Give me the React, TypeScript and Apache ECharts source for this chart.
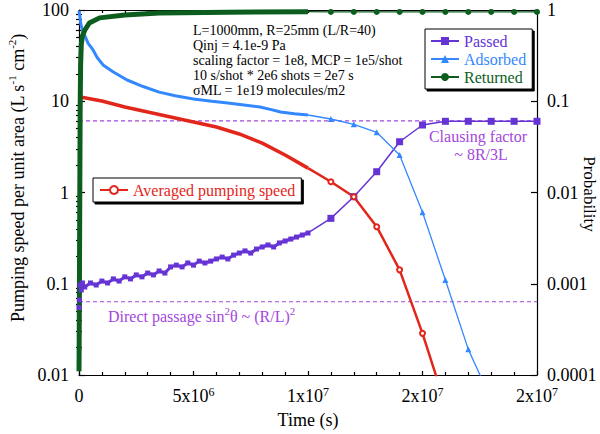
import React, { useEffect, useRef } from "react";
import * as echarts from "echarts";

const FONT = "Liberation Serif";

// ---- tick labels ----
const xTickLabels = ["0", "5x10^6", "1x10^7", "2x10^7", "2x10^7"];
const leftTickLabels = ["0.01", "0.1", "1", "10", "100"];
const rightTickLabels = ["0.0001", "0.001", "0.01", "0.1", "1"];

// ---- annotation text ----
const annotationLines = [
  "L=1000mm, R=25mm (L/R=40)",
  "Qinj = 4.1e-9 Pa",
  "scaling factor = 1e8, MCP = 1e5/shot",
  "10 s/shot * 2e6 shots = 2e7 s",
  "σML = 1e19 molecules/m2",
];

// ---- reference levels (probability) ----
const clausingLevel = 0.061;
const directPassageLevel = 0.000635;
const guideTime = [0, 2e7];

// ---- Passed (probability), densely sampled part ----
const passedDenseTime = [
  0, 2e4, 5e4, 1e5, 1.5e5, 2.5e5, 5e5, 7.5e5, 1e6, 1.25e6, 1.5e6, 1.75e6, 2e6,
  2.25e6, 2.5e6, 2.75e6, 3e6, 3.25e6, 3.5e6, 3.75e6, 4e6, 4.25e6, 4.5e6, 4.75e6,
  5e6, 5.25e6, 5.5e6, 5.75e6, 6e6, 6.25e6, 6.5e6, 6.75e6, 7e6, 7.25e6, 7.5e6,
  7.75e6, 8e6, 8.25e6, 8.5e6, 8.75e6, 9e6, 9.25e6, 9.5e6, 9.75e6, 1e7,
];
const passedDenseProb = [
  0.00055, 0.000664, 0.000969, 0.000855, 0.00102, 0.000921, 0.00102, 0.000969,
  0.00107, 0.00102, 0.00113, 0.00107, 0.00119, 0.00113, 0.00125, 0.00119,
  0.00131, 0.00125, 0.00138, 0.00131, 0.00153, 0.0016, 0.00153, 0.00169, 0.0016,
  0.00177, 0.00169, 0.00177, 0.00187, 0.00196, 0.00187, 0.00206, 0.00217,
  0.00229, 0.00217, 0.0024, 0.00253, 0.00266, 0.00253, 0.0028, 0.00294, 0.00309,
  0.00325, 0.00342, 0.0036,
];

// ---- Adsorbed (probability), densely sampled part ----
const adsorbedDenseTime = [
  0, 4e4, 8e4, 1.5e5, 2.6e5, 4e5, 6e5, 8e5, 1.05e6, 1.5e6, 2.1e6, 2.8e6, 3.5e6,
  4.2e6, 5e6, 5.8e6, 6.5e6, 7.2e6, 7.9e6, 8.4e6, 8.8e6, 9.4e6, 1e7,
];
const adsorbedDenseProb = [
  0.98, 0.85, 0.7, 0.6, 0.52, 0.43, 0.37, 0.3, 0.25, 0.209, 0.171, 0.145, 0.126,
  0.115, 0.106, 0.1, 0.0957, 0.091, 0.0865, 0.081, 0.0762, 0.073, 0.0707,
];

// ---- Returned (probability), densely sampled part ----
const returnedDenseTime = [
  0, 1e4, 2e4, 3e4, 4e4, 5e4, 7e4, 1e5, 1.5e5, 2.5e5, 4.5e5, 9e5, 2e6, 3.5e6,
  6.5e6, 1e7,
];
const returnedDenseProb = [
  0.00011, 0.0003, 0.0012, 0.005, 0.02, 0.08, 0.25, 0.42, 0.52, 0.6, 0.72, 0.82,
  0.88, 0.927, 0.944, 0.958,
];

// ---- Averaged pumping speed (L s-1 cm-2), densely sampled part ----
const speedDenseTime = [0, 1e6, 2e6, 3e6, 4e6, 5e6, 6e6, 7e6, 8e6, 9e6, 1e7];
const speedDenseValue = [11.2, 10.06, 8.65, 7.62, 6.72, 5.93, 5.22, 4.38, 3.48, 2.58, 1.85];

// ---- sparsely sampled part (every 1e6 s) ----
const sparseTime = [1e7, 1.1e7, 1.2e7, 1.3e7, 1.4e7, 1.5e7, 1.6e7, 1.7e7, 1.8e7, 1.9e7, 2e7];
const passedSparse = [0.0036, 0.00521, 0.009, 0.0169, 0.036, 0.0549, 0.0603, 0.0603, 0.0603, 0.0603, 0.0603];
const adsorbedSparse = [0.0707, 0.0639, 0.0559, 0.0457, 0.0258, 0.00607, 0.0011, 0.000191, 0.000054];
const returnedSparse = [0.958, 0.952, 0.952, 0.952, 0.952, 0.952, 0.952, 0.952, 0.952, 0.952, 0.952];
const speedSparse = [1.85, 1.31, 0.9, 0.422, 0.142, 0.0286, 0.0047];

const C_PASSED = "#6633d4";
const C_ADS = "#3388ff";
const C_RET = "#0d5e1e";
const C_RED = "#e3261b";
const C_GUIDE = "#a447dd";

const zip = (t: number[], v: number[]) => v.map((y, i) => [t[i], y]);
const sparse = (v: number[]) =>
  v.map((y, i) => (i === 0 ? { value: [sparseTime[i], y], symbol: "none" } : [sparseTime[i], y]));

const toRich = (s: string) => s.replace(/\^(\S+)/, "{sup|$1}");

const decadeMinor = (lo: number, hi: number) => {
  const out: number[] = [];
  for (let d = lo; d < hi; d++) for (let k = 2; k <= 9; k++) out.push(k * Math.pow(10, d));
  return out;
};

const black = { color: "#000", width: 1.2 };

function buildOption(): any {
  const labelFont = { fontFamily: FONT, fontSize: 18, color: "#000" };
  const supStyle = { fontFamily: FONT, fontSize: 12, color: "#000", verticalAlign: "top", lineHeight: 8 };
  const guide = (level: number) => ({
    name: "guide",
    type: "line",
    yAxisIndex: 1,
    data: guideTime.map((t) => [t, level]),
    symbol: "none",
    silent: true,
    lineStyle: { color: C_GUIDE, type: [4, 3], width: 1.2 },
    emphasis: { disabled: true },
    z: 1,
  });
  const legendBox = {
    orient: "vertical",
    itemWidth: 28,
    itemHeight: 10,
    backgroundColor: "#fff",
    borderColor: "#000",
    borderWidth: 1,
    shadowColor: "#000",
    shadowOffsetX: 2,
    shadowOffsetY: 2,
    shadowBlur: 0,
    selectedMode: false,
    textStyle: { fontFamily: FONT, fontSize: 16 },
  };
  return {
    animation: false,
    backgroundColor: "#fff",
    grid: { left: 79, right: 63, top: 10, bottom: 59, containLabel: false },
    legend: [
      {
        ...legendBox,
        data: [
          { name: "Passed", textStyle: { color: C_PASSED } },
          { name: "Adsorbed", textStyle: { color: C_ADS } },
          { name: "Returned", textStyle: { color: C_RET } },
        ],
        left: 425,
        top: 29,
        itemGap: 2,
        padding: [4, 6, 4, 5],
      },
      {
        ...legendBox,
        data: [{ name: "Averaged pumping speed", textStyle: { color: C_RED } }],
        left: 93,
        top: 178,
        padding: [4, 6, 4, 6],
      },
    ],
    xAxis: [
      {
        type: "value",
        position: "bottom",
        min: 0,
        max: 2e7,
        interval: 5e6,
        axisLine: { show: true, onZero: false, lineStyle: black },
        axisTick: { show: true, inside: true, length: 4, lineStyle: black },
        minorTick: { show: true, splitNumber: 5, length: 3, lineStyle: black },
        splitLine: { show: false },
        axisLabel: {
          ...labelFont,
          margin: 11,
          lineHeight: 20,
          formatter: (v: number) => toRich(xTickLabels[Math.round(v / 5e6)] ?? ""),
          rich: { sup: supStyle },
        },
        name: "Time (s)",
        nameLocation: "middle",
        nameGap: 36,
        nameTextStyle: labelFont,
      },
      {
        type: "value",
        position: "top",
        min: 0,
        max: 2e7,
        interval: 5e6,
        axisLine: { show: true, onZero: false, lineStyle: black },
        axisTick: { show: true, inside: true, length: 3, lineStyle: black },
        minorTick: { show: true, splitNumber: 5, length: 3, lineStyle: black },
        splitLine: { show: false },
        axisLabel: { show: false },
      },
    ],
    yAxis: [
      {
        type: "log",
        logBase: 10,
        position: "left",
        min: 0.01,
        max: 100,
        axisLine: { show: true, onZero: false, lineStyle: black },
        axisTick: { show: true, inside: true, length: 6, lineStyle: black },
        splitLine: { show: false },
        axisLabel: {
          ...labelFont,
          margin: 10,
          formatter: (v: number) => leftTickLabels[Math.round(Math.log10(v) + 2)] ?? "",
        },
      },
      {
        type: "log",
        logBase: 10,
        position: "right",
        min: 0.0001,
        max: 1,
        axisLine: { show: true, onZero: false, lineStyle: black },
        axisTick: { show: true, inside: true, length: 6, lineStyle: black },
        splitLine: { show: false },
        axisLabel: {
          ...labelFont,
          margin: 10,
          lineHeight: 18,
          formatter: (v: number) => rightTickLabels[Math.round(Math.log10(v) + 4)] ?? "",
        },
      },
      {
        type: "log",
        logBase: 10,
        position: "left",
        min: 0.01,
        max: 100,
        axisLine: { show: false },
        axisTick: { show: true, inside: true, length: 3, lineStyle: black, customValues: decadeMinor(-2, 2) },
        splitLine: { show: false },
        axisLabel: { show: false },
      },
      {
        type: "log",
        logBase: 10,
        position: "right",
        min: 0.0001,
        max: 1,
        axisLine: { show: false },
        axisTick: { show: true, inside: true, length: 3, lineStyle: black, customValues: decadeMinor(-4, 0) },
        splitLine: { show: false },
        axisLabel: { show: false },
      },
    ],
    series: [
      guide(clausingLevel),
      guide(directPassageLevel),
      {
        name: "PassedDense",
        type: "line",
        yAxisIndex: 1,
        data: zip(passedDenseTime, passedDenseProb),
        symbol: "rect",
        symbolSize: 5,
        showSymbol: true,
        lineStyle: { color: C_PASSED, width: 3 },
        itemStyle: { color: C_PASSED },
        emphasis: { disabled: true },
      },
      {
        name: "Passed",
        type: "line",
        yAxisIndex: 1,
        data: sparse(passedSparse),
        symbol: "rect",
        symbolSize: 7,
        lineStyle: { color: C_PASSED, width: 1.5 },
        itemStyle: { color: C_PASSED },
        emphasis: { disabled: true },
      },
      {
        name: "SpeedDense",
        type: "line",
        yAxisIndex: 0,
        data: zip(speedDenseTime, speedDenseValue),
        symbol: "none",
        lineStyle: { color: C_RED, width: 3.5 },
        itemStyle: { color: C_RED },
        emphasis: { disabled: true },
      },
      {
        name: "Averaged pumping speed",
        type: "line",
        yAxisIndex: 0,
        data: sparse(speedSparse),
        symbol: "emptyCircle",
        symbolSize: 5,
        lineStyle: { color: C_RED, width: 2.5 },
        itemStyle: { color: C_RED, borderWidth: 1 },
        emphasis: { disabled: true },
      },
      {
        name: "AdsorbedDense",
        type: "line",
        yAxisIndex: 1,
        data: zip(adsorbedDenseTime, adsorbedDenseProb),
        symbol: "none",
        lineStyle: { color: C_ADS, width: 3 },
        itemStyle: { color: C_ADS },
        emphasis: { disabled: true },
      },
      {
        name: "Adsorbed",
        type: "line",
        yAxisIndex: 1,
        data: sparse(adsorbedSparse),
        symbol: "triangle",
        symbolSize: 6,
        lineStyle: { color: C_ADS, width: 1.3 },
        itemStyle: { color: C_ADS },
        emphasis: { disabled: true },
      },
      {
        name: "ReturnedDense",
        type: "line",
        yAxisIndex: 1,
        data: zip(returnedDenseTime, returnedDenseProb),
        symbol: "none",
        lineStyle: { color: C_RET, width: 5 },
        itemStyle: { color: C_RET },
        emphasis: { disabled: true },
      },
      {
        name: "Returned",
        type: "line",
        yAxisIndex: 1,
        data: sparse(returnedSparse),
        symbol: "circle",
        symbolSize: 6,
        lineStyle: { color: C_RET, width: 1.3 },
        itemStyle: { color: C_RET },
        emphasis: { disabled: true },
      },
    ],
    graphic: [
      {
        type: "text",
        x: 193,
        y: 23,
        style: {
          text: annotationLines.join("\n"),
          fontFamily: FONT,
          fontSize: 14,
          lineHeight: 15,
          fill: "#000",
        },
        silent: true,
      },
      {
        type: "text",
        x: 478,
        y: 136,
        style: { text: "Clausing factor", fontFamily: FONT, fontSize: 16, fill: C_GUIDE, align: "center", verticalAlign: "middle" },
        silent: true,
      },
      {
        type: "text",
        x: 481,
        y: 154,
        style: { text: "~ 8R/3L", fontFamily: FONT, fontSize: 16, fill: C_GUIDE, align: "center", verticalAlign: "middle" },
        silent: true,
      },
      {
        type: "text",
        x: 108,
        y: 316,
        style: {
          text: "Direct passage sin{sup|2}θ ~ (R/L){sup|2}",
          fontFamily: FONT,
          fontSize: 16,
          lineHeight: 22,
          fill: C_GUIDE,
          verticalAlign: "middle",
          rich: { sup: { fontFamily: FONT, fontSize: 11, fill: C_GUIDE, verticalAlign: "top", lineHeight: 9 } },
        },
        silent: true,
      },
      {
        type: "text",
        x: 18,
        y: 178,
        rotation: Math.PI / 2,
        style: {
          text: "Pumping speed per unit area (L s{sup|-1} cm{sup|-2})",
          fontFamily: FONT,
          fontSize: 18,
          lineHeight: 24,
          fill: "#000",
          align: "center",
          verticalAlign: "middle",
          rich: { sup: { fontFamily: FONT, fontSize: 11, fill: "#000", verticalAlign: "top", lineHeight: 10 } },
        },
        silent: true,
      },
      {
        type: "text",
        x: 589,
        y: 194,
        rotation: -Math.PI / 2,
        style: { text: "Probability", fontFamily: FONT, fontSize: 17, fill: "#000", align: "center", verticalAlign: "middle" },
        silent: true,
      },
    ],
  };
}

export default function App() {
  const ref = useRef<HTMLDivElement>(null);
  useEffect(() => {
    if (!ref.current) return;
    const chart = echarts.init(ref.current, null, { renderer: "svg" });
    chart.setOption(buildOption());
    return () => chart.dispose();
  }, []);
  return (
    <div
      ref={ref}
      style={{ position: "fixed", left: 0, top: 0, width: 600, height: 434, background: "#fff" }}
    />
  );
}
